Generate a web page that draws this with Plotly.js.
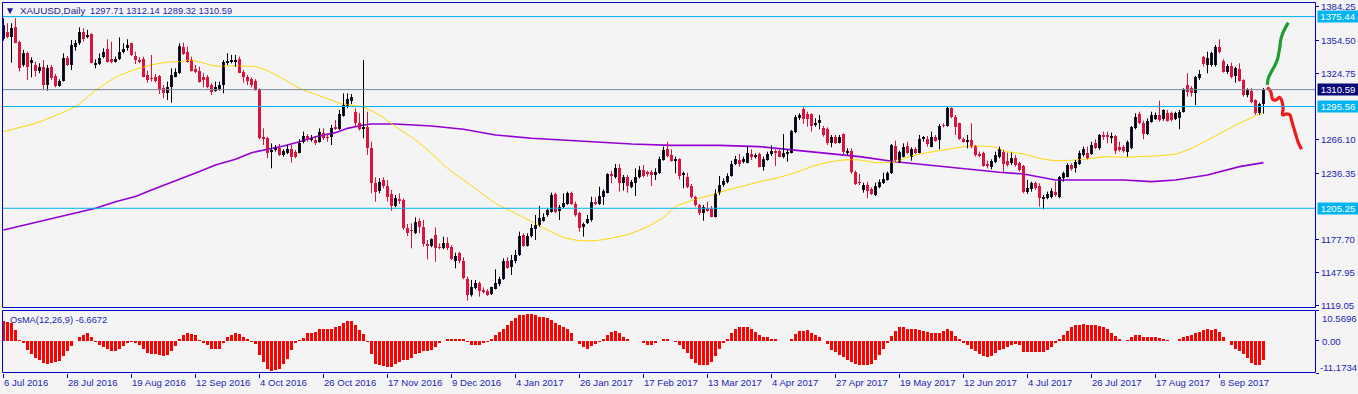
<!DOCTYPE html>
<html>
<head>
<meta charset="utf-8">
<script src="https://cdn.plot.ly/plotly-3.0.1.min.js"></script>
<style>html,body{margin:0;padding:0;background:#F4F4F4;}#chart{width:1358px;height:394px;}</style>
</head>
<body>
<div id="chart"></div>
<script>
// ---------- data ----------
const symbolTitle = 'XAUUSD,Daily';
const lastOHLC = [1297.71, 1312.14, 1289.32, 1310.59];
const osmaTitle = 'OsMA(12,26,9) -6.6672';

const dateLabels = ['6 Jul 2016','28 Jul 2016','19 Aug 2016','12 Sep 2016','4 Oct 2016','26 Oct 2016','17 Nov 2016','9 Dec 2016','4 Jan 2017','26 Jan 2017','17 Feb 2017','13 Mar 2017','4 Apr 2017','27 Apr 2017','19 May 2017','12 Jun 2017','4 Jul 2017','26 Jul 2017','17 Aug 2017','8 Sep 2017'];
const barsPerDateLabel = 16;

const priceTicks = [1384.25, 1354.50, 1324.75, 1266.10, 1236.35, 1177.70, 1147.95, 1119.05];
const levelLines = [1375.44, 1295.56, 1205.25];
const bidPrice = 1310.59;
const osmaTicks = [10.5696, 0, -11.1734];
const osmaTickText = ['10.5696', '0.00', '-11.1734'];

const open = [
1355.3,1362.1,1357.6,1366.5,1353.2,1332.5,1342.8,1334.6,1332.5,1327.4,
1331.0,1314.7,1331.0,1322.7,1313.8,1318.3,1338.4,1332.5,1348.8,1352.3,
1362.1,1357.0,1360.0,1332.5,1333.4,1339.9,1346.4,1337.5,1335.4,1337.5,
1344.3,1347.3,1351.7,1340.5,1336.9,1337.8,1323.6,1321.2,1322.1,1322.7,
1311.8,1307.3,1312.6,1322.1,1325.1,1348.8,1344.3,1336.9,1328.6,1327.4,
1322.1,1321.5,1314.7,1309.7,1310.9,1314.7,1334.0,1335.1,1335.4,1337.8,
1326.6,1322.1,1320.0,1318.3,1310.9,1268.8,1267.4,1255.5,1257.0,1258.5,
1252.3,1254.0,1257.6,1255.5,1254.6,1264.4,1269.4,1265.9,1265.9,1264.4,
1272.4,1268.8,1268.8,1277.7,1276.0,1287.2,1295.5,1300.8,1291.0,1281.3,
1275.4,1277.7,1258.5,1228.0,1220.9,1230.4,1225.0,1217.6,1207.3,1213.5,
1212.6,1187.4,1186.0,1183.0,1194.2,1188.3,1173.5,1171.8,1181.5,1171.2,
1169.7,1174.1,1171.2,1158.7,1165.2,1158.7,1142.2,1128.2,1134.2,1138.6,
1132.7,1132.1,1129.1,1133.9,1138.0,1142.2,1158.7,1152.8,1158.7,1163.8,
1181.5,1171.8,1180.6,1186.6,1190.4,1194.2,1199.3,1202.2,1217.9,1203.1,
1206.7,1209.0,1218.5,1209.0,1200.8,1188.9,1191.9,1194.8,1211.1,1209.0,
1215.0,1219.1,1235.7,1233.3,1240.7,1228.0,1233.3,1224.4,1228.0,1233.3,
1239.2,1237.8,1237.8,1234.8,1236.9,1248.1,1257.6,1252.6,1247.5,1248.7,
1234.8,1232.7,1225.0,1215.0,1208.2,1200.8,1205.2,1204.3,1197.8,1218.5,
1225.9,1228.9,1233.9,1244.6,1248.1,1246.3,1245.8,1253.4,1250.5,1253.4,
1242.2,1248.1,1253.4,1256.4,1256.4,1250.5,1253.4,1254.6,1273.3,1285.1,
1293.1,1289.0,1289.0,1279.2,1281.3,1276.2,1275.4,1263.5,1268.2,1263.5,
1271.2,1254.6,1256.4,1237.8,1228.9,1221.5,1225.9,1222.1,1217.0,1224.4,
1228.0,1230.4,1236.9,1260.6,1245.8,1251.1,1260.6,1251.1,1257.6,1254.6,
1266.5,1266.5,1260.0,1268.2,1265.9,1279.2,1278.3,1294.0,1286.0,1280.7,
1266.5,1264.4,1265.9,1260.6,1253.4,1254.6,1244.6,1241.6,1246.6,1251.1,
1255.5,1247.5,1245.2,1249.6,1245.2,1243.1,1220.0,1222.1,1228.0,1225.0,
1213.2,1214.1,1215.6,1220.0,1215.6,1231.8,1233.3,1243.7,1240.7,1244.6,
1252.6,1254.0,1253.4,1262.9,1258.5,1270.3,1270.3,1267.4,1269.4,1260.0,
1260.0,1255.5,1258.5,1276.2,1289.0,1281.3,1271.2,1282.2,1284.2,1288.1,
1284.2,1290.2,1290.2,1284.2,1285.1,1291.0,1314.7,1311.8,1307.9,1320.6,
1339.3,1332.5,1332.5,1332.5,1348.8,1336.3,1326.6,1331.6,1322.7,1328.6,
1319.2,1305.8,1309.7,1301.4,1289.6,1297.71];

const high = [
1373.9,1369.5,1369.5,1373.9,1354.1,1345.8,1344.3,1339.3,1335.4,1334.0,
1336.9,1332.5,1332.5,1324.5,1319.8,1342.8,1340.5,1354.7,1354.7,1365.9,
1365.0,1363.6,1360.6,1337.5,1342.8,1347.3,1355.3,1353.2,1339.9,1357.0,
1351.7,1355.3,1352.3,1344.3,1339.3,1339.9,1327.4,1341.4,1324.5,1323.6,
1314.7,1317.7,1329.5,1329.5,1351.7,1352.3,1348.8,1339.9,1332.5,1331.0,
1325.1,1323.6,1316.2,1317.7,1317.7,1336.9,1342.8,1341.4,1341.4,1339.9,
1328.0,1323.6,1321.5,1319.8,1311.8,1276.2,1268.8,1262.9,1261.4,1262.3,
1257.6,1261.4,1261.4,1257.0,1266.5,1273.3,1271.2,1270.3,1268.8,1276.2,
1276.2,1271.8,1279.2,1283.6,1292.5,1307.3,1307.3,1306.7,1294.0,1289.6,
1336.9,1291.0,1264.4,1232.7,1231.8,1232.7,1230.4,1221.5,1217.0,1218.5,
1214.1,1191.3,1191.9,1197.2,1196.3,1194.8,1177.1,1178.6,1188.3,1174.1,
1180.0,1179.4,1172.6,1165.8,1166.7,1161.7,1144.5,1141.6,1141.6,1140.1,
1135.0,1133.3,1135.6,1151.0,1144.5,1160.8,1161.7,1163.8,1168.2,1184.5,
1183.0,1183.0,1191.3,1199.3,1207.3,1200.8,1205.2,1219.1,1219.1,1208.2,
1218.5,1220.0,1220.0,1211.1,1202.2,1192.5,1199.3,1215.6,1215.0,1224.4,
1222.1,1236.3,1238.6,1244.6,1244.6,1234.8,1234.8,1230.4,1240.7,1242.8,
1243.7,1238.6,1239.2,1240.7,1251.1,1260.0,1264.4,1257.6,1251.1,1249.6,
1237.8,1236.9,1226.8,1216.2,1209.0,1208.2,1211.1,1207.3,1222.1,1233.9,
1231.8,1236.3,1247.5,1251.7,1253.4,1251.1,1260.6,1257.6,1254.0,1254.6,
1251.1,1255.5,1261.1,1257.6,1257.6,1271.2,1257.6,1274.8,1288.1,1289.6,
1294.9,1291.0,1289.6,1285.1,1288.1,1278.3,1277.1,1270.3,1270.3,1270.3,
1271.8,1258.5,1258.5,1238.6,1235.7,1228.0,1228.9,1223.8,1228.0,1230.9,
1236.9,1237.8,1262.3,1265.3,1256.4,1262.9,1264.4,1259.4,1259.4,1270.3,
1269.4,1269.4,1273.3,1270.3,1280.1,1280.7,1295.5,1294.9,1288.1,1281.3,
1268.2,1270.3,1280.7,1261.4,1255.5,1255.5,1247.5,1248.7,1255.5,1260.0,
1257.0,1254.6,1254.6,1252.6,1246.6,1243.7,1230.4,1228.9,1228.9,1227.4,
1217.0,1220.0,1223.0,1228.9,1233.9,1237.8,1245.2,1245.2,1248.1,1256.4,
1260.0,1260.0,1264.4,1266.5,1271.2,1273.3,1273.3,1272.4,1270.3,1264.4,
1261.4,1265.3,1278.3,1289.6,1291.0,1283.0,1285.1,1291.0,1290.2,1300.8,
1293.1,1292.5,1291.0,1291.0,1292.5,1311.8,1325.1,1313.8,1322.7,1328.0,
1340.5,1344.3,1344.3,1350.2,1355.3,1337.5,1333.4,1334.6,1331.0,1334.0,
1319.8,1311.8,1311.8,1302.0,1299.0,1312.14];

const low = [
1354.1,1356.2,1334.6,1351.7,1326.6,1331.0,1319.2,1321.5,1322.1,1325.1,
1310.9,1309.7,1319.2,1312.6,1313.2,1317.7,1331.6,1328.0,1345.2,1350.2,
1353.2,1356.2,1334.0,1329.5,1332.5,1338.4,1334.6,1334.0,1334.6,1336.9,
1342.8,1345.2,1340.5,1333.4,1334.0,1321.5,1316.8,1317.7,1316.8,1306.7,
1302.9,1301.4,1299.0,1321.5,1324.5,1341.4,1334.6,1326.6,1325.1,1316.8,
1312.6,1311.8,1305.8,1308.8,1309.7,1307.3,1332.5,1334.0,1331.0,1325.1,
1316.8,1314.7,1312.6,1309.7,1266.5,1261.4,1249.6,1240.7,1255.5,1251.7,
1251.1,1253.4,1245.8,1249.6,1254.0,1262.9,1264.4,1264.4,1261.4,1263.5,
1265.9,1264.4,1261.4,1274.8,1274.8,1286.6,1294.0,1297.8,1277.7,1274.2,
1267.4,1252.6,1218.5,1211.1,1218.5,1223.0,1211.1,1203.1,1206.1,1209.0,
1186.0,1180.6,1169.7,1182.4,1183.0,1171.2,1159.9,1170.6,1157.8,1168.8,
1168.8,1168.2,1159.3,1151.9,1156.4,1142.2,1123.2,1126.8,1133.3,1126.8,
1129.7,1127.4,1128.2,1133.3,1136.2,1141.6,1151.6,1146.0,1156.4,1162.9,
1171.2,1171.2,1179.4,1177.1,1188.9,1193.4,1197.8,1201.4,1200.8,1194.8,
1205.2,1208.2,1208.2,1197.8,1184.5,1180.0,1191.3,1193.4,1208.2,1208.2,
1208.2,1218.5,1227.4,1231.8,1220.0,1220.9,1219.1,1223.0,1216.2,1231.8,
1232.7,1233.3,1225.0,1230.4,1235.7,1247.5,1250.5,1246.6,1236.3,1230.9,
1223.0,1223.0,1214.1,1206.7,1199.3,1194.2,1202.2,1197.2,1197.2,1217.0,
1224.4,1227.4,1233.3,1243.7,1242.2,1245.2,1245.2,1248.1,1249.6,1241.6,
1238.6,1247.5,1251.7,1242.8,1250.5,1249.6,1246.6,1254.0,1271.8,1283.6,
1280.1,1277.7,1273.3,1277.7,1275.4,1268.8,1261.4,1259.4,1262.3,1262.9,
1253.4,1252.6,1235.7,1225.9,1225.9,1219.1,1214.1,1217.0,1216.2,1223.0,
1226.8,1229.8,1235.7,1246.6,1245.2,1250.5,1253.4,1247.5,1253.4,1254.0,
1264.4,1260.0,1259.4,1264.4,1257.6,1277.1,1277.7,1285.1,1270.3,1265.9,
1263.5,1258.5,1258.5,1251.1,1250.5,1242.2,1240.7,1239.8,1245.2,1249.6,
1236.3,1242.2,1243.7,1242.2,1237.8,1218.5,1217.9,1220.0,1221.5,1206.7,
1204.3,1213.2,1214.1,1215.6,1214.1,1228.9,1232.7,1238.6,1236.9,1243.7,
1251.1,1248.7,1252.6,1257.6,1257.0,1265.9,1262.9,1262.9,1253.4,1255.5,
1254.6,1251.1,1257.6,1275.4,1280.1,1266.5,1270.3,1281.3,1283.6,1282.2,
1283.0,1282.2,1282.2,1283.6,1275.4,1290.2,1304.4,1304.4,1297.0,1319.2,
1331.0,1325.1,1331.0,1331.0,1342.8,1325.7,1324.5,1320.6,1316.8,1317.7,
1304.4,1303.8,1298.4,1288.1,1288.1,1289.32];

const close = [
1368.0,1357.6,1365.0,1352.3,1329.5,1342.8,1331.0,1336.9,1327.4,1331.0,
1314.7,1329.5,1320.6,1313.8,1318.6,1338.4,1332.5,1350.2,1351.7,1362.1,
1355.3,1359.1,1334.6,1334.6,1338.4,1344.3,1335.4,1335.4,1337.5,1344.3,
1346.7,1350.2,1341.4,1336.9,1335.4,1322.1,1319.2,1320.0,1318.6,1310.3,
1307.3,1312.6,1323.6,1326.6,1349.4,1342.2,1335.4,1327.4,1326.6,1317.7,
1319.2,1312.6,1308.8,1313.2,1314.7,1335.4,1336.0,1336.9,1336.9,1325.7,
1321.5,1318.6,1314.7,1310.3,1267.4,1266.5,1254.0,1257.0,1260.0,1252.6,
1256.1,1257.9,1250.5,1251.1,1262.9,1269.4,1266.5,1267.4,1263.5,1273.3,
1267.4,1267.4,1276.2,1275.9,1289.3,1297.0,1302.0,1304.4,1280.7,1275.4,
1277.7,1258.5,1227.4,1220.0,1228.9,1225.0,1215.6,1207.3,1214.1,1211.7,
1187.4,1183.6,1184.8,1193.4,1188.3,1173.5,1171.8,1177.7,1169.7,1169.7,
1174.1,1169.7,1159.9,1162.9,1158.7,1143.0,1128.2,1135.6,1139.2,1132.1,
1130.9,1128.2,1135.0,1139.2,1142.2,1158.7,1152.5,1159.3,1163.8,1180.6,
1171.8,1180.6,1187.4,1190.4,1196.3,1197.2,1203.7,1217.0,1202.2,1206.1,
1209.6,1218.5,1209.0,1199.3,1187.4,1191.3,1195.4,1211.1,1209.0,1216.2,
1220.9,1235.7,1233.9,1240.7,1228.0,1233.3,1225.0,1228.9,1233.3,1239.2,
1233.9,1235.7,1234.8,1237.8,1248.7,1257.0,1251.7,1247.5,1248.7,1233.9,
1236.3,1224.4,1215.6,1208.2,1200.8,1206.1,1203.1,1197.8,1219.1,1225.9,
1229.8,1233.9,1244.6,1248.7,1244.6,1248.7,1254.0,1251.1,1252.6,1242.2,
1248.7,1253.4,1256.4,1254.6,1251.1,1254.6,1255.5,1274.2,1286.6,1288.1,
1284.2,1284.2,1278.3,1281.3,1283.6,1270.3,1262.9,1268.8,1263.5,1268.2,
1255.5,1256.4,1237.8,1226.8,1227.4,1225.9,1220.9,1217.9,1225.0,1228.9,
1230.9,1236.3,1261.4,1248.1,1255.5,1260.0,1254.0,1257.6,1254.0,1266.5,
1268.2,1262.3,1268.2,1265.3,1278.3,1278.3,1294.0,1286.0,1277.1,1266.5,
1264.4,1265.9,1260.0,1252.6,1251.7,1242.8,1242.8,1247.5,1252.6,1257.6,
1244.6,1243.7,1249.6,1243.7,1239.2,1220.0,1223.0,1227.4,1223.0,1214.1,
1215.6,1217.9,1220.9,1217.0,1232.7,1236.3,1243.7,1239.8,1246.6,1254.6,
1257.6,1249.6,1261.4,1258.5,1270.3,1268.2,1268.2,1269.4,1256.4,1257.0,
1256.4,1264.4,1277.1,1286.6,1281.3,1271.2,1283.0,1288.1,1288.1,1283.6,
1292.5,1283.0,1283.6,1290.2,1291.0,1310.9,1308.8,1307.3,1321.5,1324.5,
1333.4,1338.4,1342.8,1348.8,1344.3,1326.6,1331.6,1322.1,1329.5,1318.6,
1305.8,1310.3,1299.9,1289.6,1297.8,1310.59];

// moving averages, sampled at bar indices
const ma50Bar = [0,8,14,18,23,28,33,37,41,44,47,49,53,58,63,66,70,74,78,83,84,90,94,98,103,107,111,115,119,123,128,132,136,140,144,148,153,157,161,165,168,173,177,181,185,189,193,198,202,206,210,214,218,223,227,231,235,239,243,248,251,255,259,263,268,272,276,280,284,288,293,297,301,305,309,313,315];
const ma50 = [1273.3,1280.7,1289.0,1295.5,1309.7,1321.5,1328.6,1332.5,1335.1,1335.4,1336.9,1335.1,1331.6,1331.6,1331.0,1327.4,1320.0,1311.8,1306.4,1299.9,1298.4,1294.9,1288.1,1277.7,1265.9,1254.0,1240.7,1230.4,1220.0,1209.6,1200.8,1193.4,1186.0,1179.4,1176.5,1176.5,1179.4,1183.0,1188.9,1197.2,1206.7,1213.2,1217.0,1221.5,1225.0,1228.9,1231.8,1236.9,1242.2,1246.0,1248.1,1248.1,1245.8,1246.6,1251.7,1254.6,1257.0,1259.4,1260.6,1259.4,1255.5,1253.4,1249.6,1247.5,1248.1,1249.6,1251.1,1250.5,1251.1,1251.7,1253.4,1258.5,1265.9,1273.3,1280.7,1287.2,1290.2];

const ma200Bar = [0,8,16,23,28,33,37,41,45,49,53,58,62,66,70,74,78,83,86,90,92,98,107,115,123,132,140,148,157,167,179,189,198,206,214,223,231,239,249,255,263,272,280,287,293,301,305,309,315];
const ma200 = [1186.0,1192.5,1199.3,1205.2,1211.1,1215.6,1221.5,1226.8,1231.8,1237.8,1243.7,1248.7,1254.6,1257.6,1260.6,1264.4,1268.8,1272.4,1276.2,1279.2,1280.1,1280.1,1278.3,1275.4,1270.3,1267.4,1265.9,1264.4,1262.3,1261.1,1261.1,1260.0,1257.0,1254.0,1251.1,1246.6,1243.7,1240.7,1237.2,1235.7,1230.4,1230.4,1230.4,1228.9,1230.4,1234.8,1238.6,1242.2,1245.8];

// hand-drawn scenario paths
const upPathBar = [315.95,316.2,317.0,317.9,318.5,318.8,319.1,319.3,319.8,320.4,321.2];
const upPath = [1314.7,1320.6,1326.6,1332.5,1337.5,1342.8,1348.8,1354.7,1360.6,1365.0,1370.1];
const downPathBar = [315.95,316.8,317.3,318.1,319.0,319.5,319.9,319.8,320.8,321.6,322.0,322.6,323.1,323.7,324.5];
const downPath = [1312.6,1308.8,1302.0,1301.4,1303.8,1301.4,1294.0,1288.1,1289.0,1288.1,1283.6,1276.2,1270.3,1263.5,1257.6];

const osma = [
7.0,6.6,6.3,3.7,0.3,-0.9,-3.3,-4.4,-5.8,-6.8,
-7.7,-7.9,-7.7,-7.5,-7.0,-5.4,-3.6,-1.7,-0.2,1.4,
2.2,2.6,1.2,-0.3,-1.5,-2.1,-2.8,-3.5,-3.5,-2.7,
-1.9,-0.9,-0.5,-0.9,-1.5,-2.7,-4.2,-4.4,-4.7,-5.0,
-5.4,-5.0,-3.5,-1.9,0.8,2.0,2.9,2.3,2.0,0.2,
-0.7,-1.5,-2.7,-2.7,-2.7,-0.9,1.2,2.0,2.6,2.3,
1.4,0.5,-0.3,-1.2,-5.0,-7.3,-9.7,-10.5,-10.0,-9.7,
-8.2,-6.2,-3.3,-0.9,0.2,1.0,2.6,2.9,3.1,4.0,
4.0,4.0,4.2,4.7,5.1,6.3,6.8,7.0,5.5,3.7,
2.3,-0.3,-4.4,-7.9,-8.5,-8.9,-9.1,-9.1,-8.2,-7.3,
-6.8,-6.8,-5.8,-4.4,-4.2,-3.6,-3.5,-3.0,-2.1,-0.9,
0.1,0.6,0.6,0.8,0.6,0.5,-0.3,-1.3,-1.5,-1.3,
-0.9,-0.3,0.5,2.0,3.1,4.3,5.5,7.0,7.8,9.0,
9.1,9.2,9.3,9.1,8.4,8.2,7.8,7.2,6.3,5.5,
4.9,4.3,2.6,0.1,-1.2,-2.3,-2.7,-1.9,-1.2,-0.3,
0.8,2.0,3.1,3.5,2.6,1.4,0.5,0.1,-0.2,-0.2,
-0.9,-1.3,-1.3,-0.9,-0.2,0.5,0.5,0.1,-0.5,-1.5,
-2.7,-4.2,-6.2,-7.7,-8.4,-8.5,-8.4,-7.3,-5.4,-2.7,
-0.7,0.8,2.6,4.3,4.9,4.9,4.9,4.3,3.1,2.1,
1.4,1.2,0.8,0.5,0.1,-0.2,-0.2,0.8,2.3,3.4,
3.5,3.7,2.8,2.0,1.2,-0.1,-1.2,-3.0,-3.8,-4.9,
-5.6,-6.5,-7.3,-8.2,-8.5,-8.5,-8.4,-7.9,-6.8,-5.0,
-2.7,-0.9,1.6,3.5,4.7,4.7,4.2,4.0,4.0,3.7,
3.5,3.1,2.9,2.9,2.9,3.5,4.0,3.5,1.6,0.5,
-0.7,-1.5,-2.7,-3.5,-4.4,-5.4,-5.6,-5.1,-4.2,-3.3,
-2.7,-2.1,-1.6,-1.2,-1.6,-3.8,-3.8,-3.8,-3.8,-3.8,
-3.8,-3.3,-2.1,-0.7,0.5,2.2,3.5,4.7,5.4,5.7,
5.8,5.6,5.5,5.4,5.1,4.9,4.2,2.8,1.6,0.5,
-0.2,0.2,1.2,2.1,1.9,1.4,1.4,1.2,1.2,1.0,
0.5,0.2,-0.2,-0.2,0.5,1.4,1.6,1.9,2.6,3.1,
3.7,4.3,3.7,4.0,3.1,1.4,0.1,-1.5,-2.7,-3.5,
-4.4,-5.8,-7.7,-8.5,-8.3,-6.6672];

// ---------- styling ----------
const BULL = '#16162C', BEAR = '#DC143C', AXIS_BLUE = '#0000CD', TXT = '#1E1EB4';
const FONT = 'Liberation Sans, Arial, sans-serif';
const W = 1358, H = 394, ML = 3, MR = 43, MT = 3, MB = 21;
const plotW = W - ML - MR, plotH = H - MT - MB;
const mainBottomPx = 308, subTopPx = 310.5;
const mainDom = [(H - MB - mainBottomPx) / plotH, 1];
const subDom = [0, (H - MB - subTopPx) / plotH];
const px2x = p => (p - ML) / plotW;          // pixel column -> paper x
const px2y = p => (H - MB - p) / plotH;      // pixel row -> paper y

// candle bodies & wicks
const idx = close.map((_, i) => i);
const minBody = 0.9;
const bull = {x: [], base: [], h: [], wx: [], wy: []};
const bear = {x: [], base: [], h: [], wx: [], wy: []};
idx.forEach(i => {
  const o = open[i], c = close[i];
  let lo = Math.min(o, c), hi = Math.max(o, c);
  if (hi - lo < minBody) { const m = (hi + lo) / 2; lo = m - minBody / 2; hi = m + minBody / 2; }
  const g = c >= o ? bull : bear;
  g.x.push(i); g.base.push(lo); g.h.push(hi - lo);
  g.wx.push(i, i, null); g.wy.push(low[i], high[i], null);
});

const traces = [
  {type: 'scatter', mode: 'lines', x: ma200Bar, y: ma200, line: {color: '#9400D3', width: 1.6}, hoverinfo: 'skip'},
  {type: 'scatter', mode: 'lines', x: ma50Bar, y: ma50, line: {color: '#FFD700', width: 1, shape: 'spline', smoothing: 0.6}, hoverinfo: 'skip'},
  {type: 'bar', x: bull.x, y: bull.h, base: bull.base, width: 0.75, marker: {color: BULL, line: {width: 0}}, hoverinfo: 'skip'},
  {type: 'bar', x: bear.x, y: bear.h, base: bear.base, width: 0.75, marker: {color: BEAR, line: {width: 0}}, hoverinfo: 'skip'},
  {type: 'scatter', mode: 'lines', x: bull.wx, y: bull.wy, line: {color: '#000000', width: 1}, connectgaps: false, hoverinfo: 'skip'},
  {type: 'scatter', mode: 'lines', x: bear.wx, y: bear.wy, line: {color: BEAR, width: 1}, connectgaps: false, hoverinfo: 'skip'},
  {type: 'scatter', mode: 'lines', x: upPathBar, y: upPath, line: {color: '#1E9E2E', width: 3.2, shape: 'spline'}, hoverinfo: 'skip'},
  {type: 'scatter', mode: 'lines', x: downPathBar, y: downPath, line: {color: '#EE1C1C', width: 3.2, shape: 'spline'}, hoverinfo: 'skip'},
  {type: 'bar', x: idx, y: osma, width: 0.75, marker: {color: '#FF0000', line: {width: 0}}, xaxis: 'x', yaxis: 'y2', hoverinfo: 'skip'}
];

const shapes = [];
levelLines.forEach(v => shapes.push({type: 'line', xref: 'paper', x0: 0, x1: 1, yref: 'y', y0: v, y1: v, line: {color: '#00B4F0', width: 1}}));
shapes.push({type: 'line', xref: 'paper', x0: 0, x1: 1, yref: 'y', y0: bidPrice, y1: bidPrice, line: {color: '#778899', width: 1}});
// crisp panel frames on whole pixel rows/columns
shapes.push({type: 'rect', xref: 'paper', yref: 'paper', x0: px2x(2.5), x1: px2x(1315.5), y0: px2y(307.5), y1: px2y(2.5), line: {color: AXIS_BLUE, width: 1}});
shapes.push({type: 'rect', xref: 'paper', yref: 'paper', x0: px2x(2.5), x1: px2x(1315.5), y0: px2y(372.5), y1: px2y(310.5), line: {color: AXIS_BLUE, width: 1}});

const annotations = [];
const topText = (txt, xpx, ypx, size, color, anchor) => ({
  xref: 'paper', yref: 'paper', x: 0, y: 1, xanchor: anchor || 'left', yanchor: 'middle',
  xshift: xpx - ML, yshift: -(ypx - MT), text: txt, showarrow: false,
  font: {family: FONT, size: size, color: color}
});
annotations.push(topText('▼', 9.7, 10.5, 10, '#14148C', 'center'));
annotations.push(topText(symbolTitle, 17.5, 10.5, 9.8, '#1E1E96'));
annotations.push(topText(lastOHLC.map(v => v.toFixed(2)).join(' '), 88, 10.5, 9.3, TXT));
annotations.push(topText(osmaTitle, 7.5, 319.5, 9.3, TXT));

// OsMA axis labels (drawn inside the scale edges like the terminal)
const osmaLabelPx = [318, 341, 367];
osmaTickText.forEach((t, k) => annotations.push({
  xref: 'paper', yref: 'paper', x: 1, y: 1, xanchor: 'left', yanchor: 'middle',
  xshift: t.startsWith('-') ? 3 : 5, yshift: -(osmaLabelPx[k] - MT), text: t, showarrow: false,
  font: {family: FONT, size: 9.6, color: TXT}
}));

// price boxes on the right scale
const boxes = [[levelLines[0], '#00B4F0'], [bidPrice, '#0A0A78'], [levelLines[1], '#00B4F0'], [levelLines[2], '#00B4F0']];
boxes.forEach(([v, bg]) => annotations.push({
  xref: 'paper', yref: 'y', x: 1, y: v, xanchor: 'left', yanchor: 'middle', xshift: 2,
  text: v.toFixed(2), showarrow: false, bgcolor: bg, borderpad: 0, width: 40, height: 11,
  font: {family: FONT, size: 9.6, color: '#FFFFFF'}
}));

const tickBars = dateLabels.map((_, k) => k * barsPerDateLabel);

const layout = {
  width: W, height: H,
  margin: {l: ML, r: MR, t: MT, b: MB, pad: 0},
  paper_bgcolor: '#F4F4F4', plot_bgcolor: '#F4F4F4',
  showlegend: false, barmode: 'overlay', bargap: 0,
  xaxis: {
    range: [-0.125, 327.875], anchor: 'y2', showgrid: false, zeroline: false, showline: false,
    tickmode: 'array', tickvals: tickBars, ticktext: dateLabels,
    ticks: 'outside', ticklen: 4, tickwidth: 1, tickcolor: AXIS_BLUE,
    ticklabelposition: 'outside right',
    tickfont: {family: FONT, size: 9.6, color: TXT}
  },
  yaxis: {
    domain: mainDom, range: [1116.7, 1387.5], side: 'right', anchor: 'x',
    showgrid: false, zeroline: false, showline: false,
    tickmode: 'array', tickvals: priceTicks, ticktext: priceTicks.map(v => v.toFixed(2)),
    ticks: 'outside', ticklen: 3, tickwidth: 1, tickcolor: AXIS_BLUE,
    tickfont: {family: FONT, size: 9.6, color: TXT}
  },
  yaxis2: {
    domain: subDom, range: [osmaTicks[2], osmaTicks[0]], side: 'right', anchor: 'x',
    showgrid: false, zeroline: false, showline: false,
    tickmode: 'array', tickvals: osmaTicks, showticklabels: false,
    ticks: 'outside', ticklen: 3, tickwidth: 1, tickcolor: AXIS_BLUE
  },
  shapes: shapes,
  annotations: annotations
};

Plotly.newPlot('chart', traces, layout, {staticPlot: true, displayModeBar: false});
</script>
</body>
</html>
